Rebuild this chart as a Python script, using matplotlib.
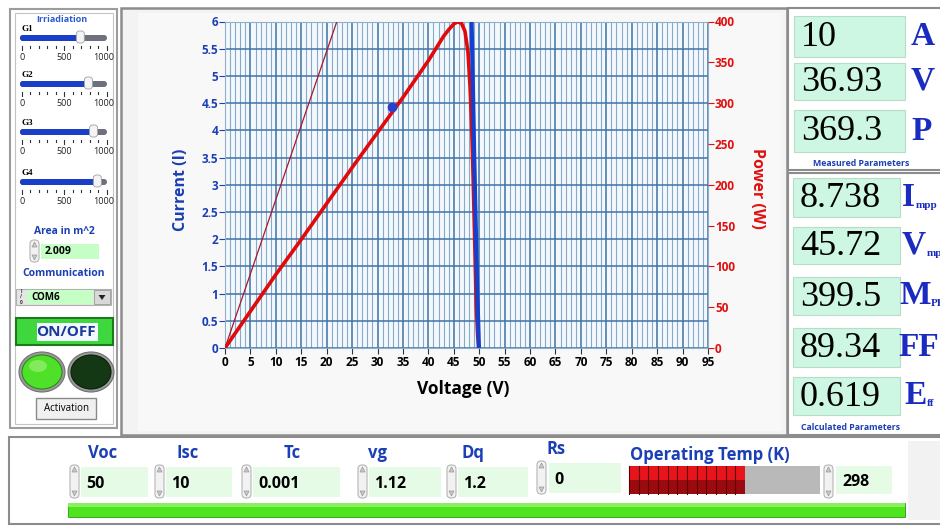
import matplotlib.pyplot as plt
from matplotlib.patches import Rectangle, FancyBboxPatch, Ellipse, Polygon
from matplotlib.ticker import MultipleLocator, FuncFormatter

# curves
power_v = [0, 5, 10, 15, 20, 25, 30, 35, 40, 42, 43, 44, 45, 45.72, 46.5,
           47.2, 47.8, 48.2, 48.5, 48.8, 49.1, 49.4, 49.7, 49.9]
power_w = [0, 45, 90, 133, 177, 221, 264, 307, 352, 372, 382, 390, 397, 399.5,
           398, 388, 362, 320, 275, 210, 135, 55, 15, 0]
iv_v = [0, 30, 40, 44, 45.72, 46.8, 47.8, 48.5, 48.8, 49.0, 49.3, 49.6, 49.95]
iv_i = [10, 9.5, 9.1, 8.9, 8.738, 8.1, 7.0, 6.0, 4.6, 3.6, 2.35, 1.1, 0]
ref_v = [0, 22.0]
ref_i = [0, 6.0]
marker_v = [32.9]
marker_i = [4.42]

# front panel values
irr_names = ['G1', 'G2', 'G3', 'G4']
irr_values = [690, 785, 845, 890]
area_value = '2.009'
com_port = 'COM6'
measured_values = ['10', '36.93', '369.3']
measured_units = ['A', 'V', 'P']
calc_values = ['8.738', '45.72', '399.5', '89.34', '0.619']
calc_units = [('I', 'mpp'), ('V', 'mpp'), ('M', 'PP'), ('FF', ''), ('E', 'ff')]
param_names = ['Voc', 'Isc', 'Tc', 'vg', 'Dq', 'Rs']
param_values = ['50', '10', '0.001', '1.12', '1.2', '0']
temp_k = 298
temp_max = 490

SANS = ['Open Sans', 'DejaVu Sans']
SERIF = ['Liberation Serif', 'DejaVu Serif']
BLUE = '#1b3fb4'
RED = '#e01010'

W, H = 940, 529
fig = plt.figure(figsize=(W / 100, H / 100), dpi=100)
fig.patch.set_facecolor('white')
bg = fig.add_axes([0, 0, 1, 1])
bg.set_xlim(0, W)
bg.set_ylim(H, 0)
bg.axis('off')


def rect(x0, y0, x1, y1, fc='none', ec='none', lw=1.0, z=1):
    bg.add_patch(Rectangle((x0, y0), x1 - x0, y1 - y0, facecolor=fc,
                           edgecolor=ec, linewidth=lw, zorder=z))


def txt(x, y, s, size, color='black', weight='bold', ha='center', family=SANS, z=5, **kw):
    bg.text(x, y, s, fontsize=size, color=color, fontweight=weight, ha=ha,
            va='center', family=family, zorder=z, **kw)


def spinner(x, y0, y1):
    bg.add_patch(FancyBboxPatch((x, y0), 9, y1 - y0, boxstyle='round,pad=0,rounding_size=4',
                                facecolor='#f2f2f2', edgecolor='#b5b5b5', linewidth=0.8, zorder=3))
    bg.add_patch(Polygon([[x + 2, y0 + 7], [x + 7, y0 + 7], [x + 4.5, y0 + 2]],
                         facecolor='#c8c8c8', edgecolor='#999999', linewidth=0.5, zorder=4))
    bg.add_patch(Polygon([[x + 2, y1 - 7], [x + 7, y1 - 7], [x + 4.5, y1 - 2]],
                         facecolor='#c8c8c8', edgecolor='#999999', linewidth=0.5, zorder=4))


# panel frames
rect(10, 9, 117, 428, fc='white', ec='#9c9c9c', lw=1.5)
rect(15, 13, 113, 424, ec='#c4c4c4', lw=0.8)
rect(121, 8, 787, 435, fc='#f3f3f3', ec='#8c8c8c', lw=1.8)
rect(138, 13, 781, 431, fc='#f8f8f8')
rect(788, 8, 946, 170, fc='white', ec='#8c8c8c', lw=1.5)
rect(788, 173, 946, 435, fc='white', ec='#8c8c8c', lw=1.5)
rect(9, 437, 946, 524, fc='white', ec='#8c8c8c', lw=1.5)
rect(908, 441, 946, 520, fc='#f2f2f2')

# irradiation sliders
txt(62, 20, 'Irriadiation', 6.5, color='#2a5bd0')
track_y = [38, 84, 132, 182]
for name, val, ty in zip(irr_names, irr_values, track_y):
    x0, x1 = 21.7, 106.7
    tx = x0 + (x1 - x0) * val / 1000
    txt(22, ty - 9, name, 6.5, family=SERIF, ha='left')
    bg.add_patch(FancyBboxPatch((20, ty - 3), 87, 6, boxstyle='round,pad=0,rounding_size=3',
                                facecolor='#6e7080', edgecolor='none', zorder=3))
    bg.add_patch(FancyBboxPatch((20, ty - 3), tx - 20, 6, boxstyle='round,pad=0,rounding_size=3',
                                facecolor='#1a3ec8', edgecolor='none', zorder=3))
    bg.add_patch(FancyBboxPatch((tx - 4, ty - 7), 8, 12, boxstyle='round,pad=0,rounding_size=3',
                                facecolor='#f4f4f4', edgecolor='#a0a0a0', linewidth=0.6, zorder=4))
    for k in range(11):
        kx = x0 + (x1 - x0) * k / 10
        big = k in (0, 5, 10)
        bg.plot([kx, kx], [ty + 8, ty + (12 if big else 10)], color='#333333', lw=0.8, zorder=3)
    for lab, lx in zip(['0', '500', '1000'], [22, 64, 104]):
        txt(lx, ty + 19, lab, 6.5, weight='normal', color='#222222')

# area and communication
txt(64, 231, 'Area in m^2', 7.5, color=BLUE)
spinner(30, 240, 262)
rect(41, 244, 99, 259, fc='#c6ffc6')
txt(45, 252, area_value, 7.5, ha='left')
txt(64, 274, 'Communication', 7.5, color=BLUE)
rect(16, 289, 111, 305, fc='#e6e6e6', ec='#b0b0b0', lw=0.8)
rect(27, 290, 93, 304, fc='#c6ffc6')
txt(21, 297, 'I\n/\n0', 3.5, color='#333333')
rect(94, 290, 110, 304, fc='#d8d8d8', ec='#9a9a9a', lw=0.6)
bg.add_patch(Polygon([[98.5, 295], [105.5, 295], [102, 300]], facecolor='#222222', zorder=4))
txt(31, 297, com_port, 7, ha='left')

# on/off button, leds, activation
rect(16, 318, 113, 345, fc='#3ed83e', ec='#1c7a1c', lw=1.5)
rect(37, 323, 98, 341, fc='#f4f8ff')
txt(66, 332, 'ON/OFF', 11, color='#1a3a9a')
bg.add_patch(Ellipse((42, 372), 46, 40, facecolor='#9a9a9a', edgecolor='#707070', lw=0.8, zorder=3))
bg.add_patch(Ellipse((42, 372), 40, 34, facecolor='#4fe02a', edgecolor='#2a8a1a', lw=0.8, zorder=4))
bg.add_patch(Ellipse((38, 366), 18, 12, facecolor='#9af070', edgecolor='none', alpha=0.7, zorder=5))
bg.add_patch(Ellipse((91, 372), 46, 40, facecolor='#9a9a9a', edgecolor='#707070', lw=0.8, zorder=3))
bg.add_patch(Ellipse((91, 372), 40, 34, facecolor='#143814', edgecolor='#0a200a', lw=0.8, zorder=4))
rect(36, 398, 96, 419, fc='#f0f0f0', ec='#8a8a8a', lw=1.0)
txt(66, 408.5, 'Activation', 7, weight='normal')

# measured / calculated indicators
meas_rows = [(16, 57), (63, 100), (110, 152)]
for val, unit, (y0, y1) in zip(measured_values, measured_units, meas_rows):
    rect(794, y0, 905, y1, fc='#cdf7e2', ec='#b8dcc8', lw=0.8)
    txt(801, (y0 + y1) / 2 + 1, val, 26, weight='normal', family=SERIF, ha='left')
    txt(911, (y0 + y1) / 2, unit, 24, color='#1a2cc0', family=SERIF, ha='left')
txt(861, 163, 'Measured Parameters', 6.3, color=BLUE)

calc_rows = [(178, 217), (227, 264), (277, 315), (328, 367), (377, 415)]
unit_x = [902, 902, 899, 898, 904]
sub_x = [916, 927, 931, 0, 927]
for k, (val, (unit, sub), (y0, y1)) in enumerate(zip(calc_values, calc_units, calc_rows)):
    rect(793, y0, 900, y1, fc='#cdf7e2', ec='#b8dcc8', lw=0.8)
    yc = (y0 + y1) / 2
    txt(800, yc + 1, val, 26, weight='normal', family=SERIF, ha='left')
    txt(unit_x[k], yc, unit, 24, color='#1a2cc0', family=SERIF, ha='left')
    if sub:
        txt(sub_x[k], yc + 8, sub, 8, color='#1a2cc0', family=SERIF, ha='left')
txt(851, 428, 'Calculated Parameters', 6.3, color=BLUE)

# bottom parameter bar
name_x = [103, 188, 292, 378, 473, 556]
spin_x = [70, 155, 242, 358, 447, 537]
box_x = [(81, 148), (166, 232), (253, 340), (369, 441), (458, 528), (549, 621)]
for i, (nm, val) in enumerate(zip(param_names, param_values)):
    lift = -4 if nm == 'Rs' else 0
    txt(name_x[i], 453 + lift, nm, 12, color=BLUE)
    spinner(spin_x[i], 465 + lift, 498 + lift)
    rect(box_x[i][0], 467 + lift, box_x[i][1], 497 + lift, fc='#e6fbe6')
    txt(box_x[i][0] + 5, 484 + lift, val, 11.5, ha='left')

txt(630, 455, 'Operating Temp (K)', 12, color=BLUE, ha='left')
rect(629, 466, 820, 494, fc='#b9b9b9')
red_end = 629 + (820 - 629) * temp_k / temp_max
n_seg = 12
seg_w = (red_end - 629) / n_seg
for k in range(n_seg):
    sx = 629 + k * seg_w
    rect(sx, 466, sx + seg_w, 480, fc='#e8141c')
    rect(sx, 480, sx + seg_w, 494, fc='#9a0a0e')
    bg.plot([sx, sx], [466, 494], color='#5a0000', lw=0.8, zorder=2)
spinner(824, 465, 498)
rect(836, 466, 892, 494, fc='#e6fbe6')
txt(842, 482, str(temp_k), 11.5, ha='left')
rect(68, 503, 905, 517, fc='#4ee41e', ec='#2a9a10', lw=0.6)
rect(68, 503, 905, 507, fc='#8af060')

# main I-V / P-V graph
ax = fig.add_axes([225 / W, 1 - 348 / H, 483 / W, 326.5 / H])
ax.set_facecolor('#f3f8fc')
ax.set_xlim(0, 95)
ax.set_ylim(0, 6)
ax.xaxis.set_major_locator(MultipleLocator(5))
ax.xaxis.set_minor_locator(MultipleLocator(1))
ax.yaxis.set_major_locator(MultipleLocator(0.5))
ax.yaxis.set_major_formatter(FuncFormatter(lambda v, p: f'{v:g}'))
ax.grid(which='major', axis='x', color='#5a86b0', lw=1.3)
ax.grid(which='minor', axis='x', color='#86aac8', lw=0.8)
ax.grid(which='major', axis='y', color='#3f72a8', lw=1.1)
ax.tick_params(axis='x', which='major', length=4, color='#333333', labelsize=8.5, pad=2)
ax.tick_params(axis='x', which='minor', length=0)
ax.tick_params(axis='y', length=4, color=BLUE, labelcolor=BLUE, labelsize=8.5, pad=1)
for lab in ax.get_xticklabels() + ax.get_yticklabels():
    lab.set_fontweight('bold')
    lab.set_family(SANS)
for s in ax.spines.values():
    s.set_color('#8fb0cc')
    s.set_linewidth(0.8)

ax2 = ax.twinx()
ax2.set_ylim(0, 400)
ax2.yaxis.set_major_locator(MultipleLocator(50))
ax2.tick_params(axis='y', length=4, color=RED, labelcolor=RED, labelsize=8.5, pad=1)
for lab in ax2.get_yticklabels():
    lab.set_fontweight('bold')
    lab.set_family(SANS)
for s in ax2.spines.values():
    s.set_visible(False)

ax2.plot(ref_v, ref_i, color='#a8182c', lw=0.9, transform=ax.transData)
ax2.plot(power_v, power_w, color='#e00a0a', lw=2.6, solid_capstyle='round')
ax2.plot(iv_v, iv_i, color='#1440d0', lw=3.0, transform=ax.transData)
ax2.plot(marker_v, marker_i, 'o', color='#2a40c8', ms=6, transform=ax.transData)

txt(181, 190, 'Current (I)', 11.5, color=BLUE, rotation=90)
txt(757, 188, 'Power (W)', 11.5, color=RED, rotation=-90)
txt(463, 389, 'Voltage (V)', 12.5)

fig.savefig('out.png', dpi=100, facecolor=fig.get_facecolor())
